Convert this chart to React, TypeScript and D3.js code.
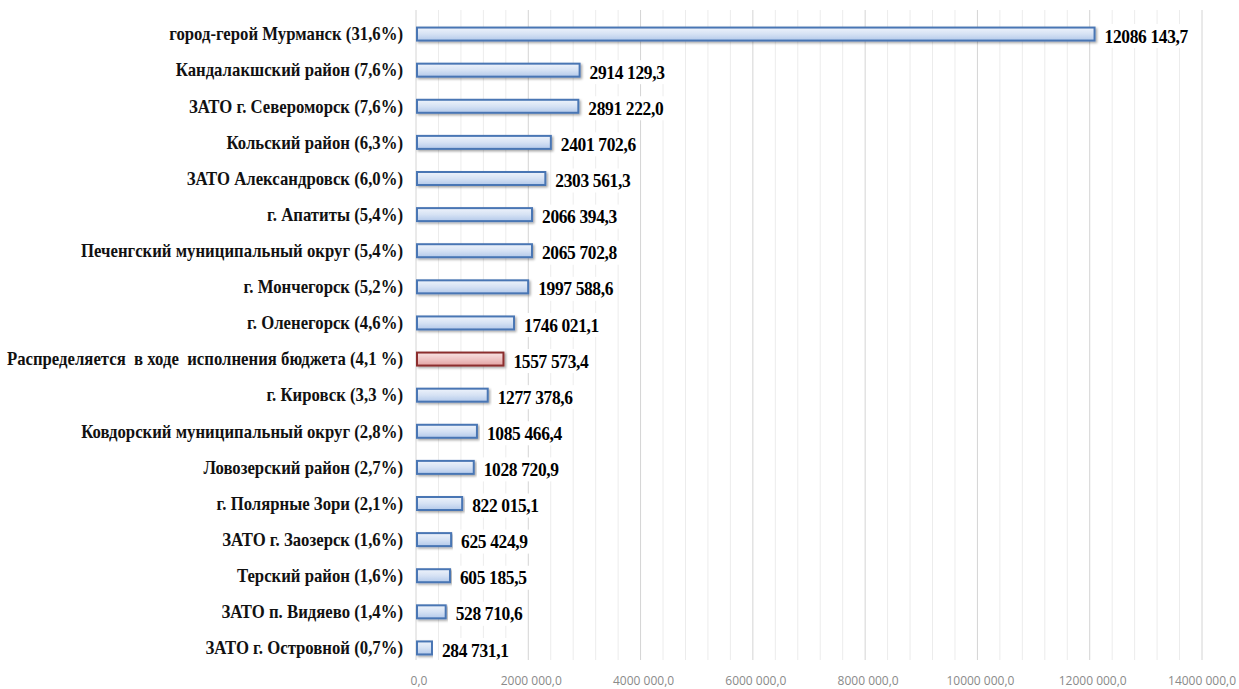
import React, { useEffect, useRef } from "react";
import * as d3 from "d3";

const categories = [
  "город-герой Мурманск (31,6%)",
  "Кандалакшский район (7,6%)",
  "ЗАТО г. Североморск (7,6%)",
  "Кольский район (6,3%)",
  "ЗАТО Александровск (6,0%)",
  "г. Апатиты (5,4%)",
  "Печенгский муниципальный округ (5,4%)",
  "г. Мончегорск (5,2%)",
  "г. Оленегорск (4,6%)",
  "Распределяется  в ходе  исполнения бюджета (4,1 %)",
  "г. Кировск (3,3 %)",
  "Ковдорский муниципальный округ (2,8%)",
  "Ловозерский район (2,7%)",
  "г. Полярные Зори (2,1%)",
  "ЗАТО г. Заозерск (1,6%)",
  "Терский район (1,6%)",
  "ЗАТО п. Видяево (1,4%)",
  "ЗАТО г. Островной (0,7%)",
];

const values = [
  12086143.7, 2914129.3, 2891222.0, 2401702.6, 2303561.3, 2066394.3, 2065702.8,
  1997588.6, 1746021.1, 1557573.4, 1277378.6, 1085466.4, 1028720.9, 822015.1,
  625424.9, 605185.5, 528710.6, 284731.1,
];

// the one undistributed row is drawn in red
const highlighted = ["Распределяется  в ходе  исполнения бюджета (4,1 %)"];

const ticks = [0, 2000000, 4000000, 6000000, 8000000, 10000000, 12000000, 14000000];

// "12086 143,7" style: only the last thousands group is split off
const fmt = (v: number) => {
  const s = v.toFixed(1).replace(".", ",");
  const [int, dec] = s.split(",");
  if (int.length <= 3) return int + "," + dec;
  return int.slice(0, -3) + " " + int.slice(-3) + "," + dec;
};

export default function App() {
  const ref = useRef<SVGSVGElement>(null);
  const width = 1239;
  const height = 689;

  useEffect(() => {
    const margin = { top: 16, right: 37, bottom: 23, left: 416 };
    const svg = d3.select(ref.current);
    svg.selectAll("*").remove();

    const x = d3.scaleLinear().domain([0, 14000000]).range([margin.left, width - margin.right]);
    const y = d3
      .scaleBand()
      .domain(categories)
      .range([margin.top, height - margin.bottom])
      .paddingInner(0.64)
      .paddingOuter(0.32);

    const defs = svg.append("defs");
    const grad = (id: string, c1: string, c2: string, c3: string) => {
      const g = defs.append("linearGradient").attr("id", id).attr("x1", 0).attr("y1", 0).attr("x2", 0).attr("y2", 1);
      g.append("stop").attr("offset", "0%").attr("stop-color", c1);
      g.append("stop").attr("offset", "50%").attr("stop-color", c2);
      g.append("stop").attr("offset", "100%").attr("stop-color", c3);
    };
    grad("blue", "#eef3fb", "#d6e2f4", "#b3c9ea");
    grad("red", "#f8e4e4", "#efc5c5", "#e2a3a3");
    const sh = defs.append("filter").attr("id", "shadow").attr("x", "-5%").attr("y", "-50%").attr("width", "110%").attr("height", "220%");
    sh.append("feDropShadow").attr("dx", 1.5).attr("dy", 1.5).attr("stdDeviation", 1).attr("flood-color", "#000").attr("flood-opacity", 0.35);

    // gridlines: minor every 400 000, major every 2 000 000
    const minor = d3.range(0, 14000001, 400000);
    svg
      .append("g")
      .selectAll("line")
      .data(minor)
      .join("line")
      .attr("x1", (d) => x(d))
      .attr("x2", (d) => x(d))
      .attr("y1", 10)
      .attr("y2", 660)
      .attr("stroke", (d) => (d % 2000000 === 0 ? "#d4d4d4" : "#ececec"))
      .attr("stroke-width", 1);

    // tick labels
    svg
      .append("g")
      .selectAll("text")
      .data(ticks)
      .join("text")
      .attr("x", (d) => (d === 14000000 ? width - 3 : x(d) + 3))
      .attr("y", 685)
      .attr("text-anchor", (d) => (d === 14000000 ? "end" : "middle"))
      .style("font-family", "'Liberation Sans Narrow', 'Open Sans', sans-serif")
      .style("font-size", "12px")
      .attr("fill", "#8a8a8a")
      .text((d) => fmt(d));

    // category labels, Times-like bold, slightly condensed
    const cx = 0.93;
    svg
      .append("g")
      .attr("transform", `scale(${cx},1)`)
      .selectAll("text")
      .data(categories)
      .join("text")
      .attr("x", (margin.left - 13) / cx)
      .attr("y", (d) => y(d)! + y.bandwidth() / 2)
      .attr("dy", "0.35em")
      .attr("text-anchor", "end")
      .attr("xml:space", "preserve")
      .style("white-space", "pre")
      .style("font-family", "'Liberation Serif', 'Times New Roman', serif")
      .style("font-weight", "bold")
      .style("font-size", "18px")
      .attr("fill", "#111")
      .text((d) => d);

    // bars
    svg
      .append("g")
      .selectAll("rect")
      .data(categories)
      .join("rect")
      .attr("x", x(0) + 1)
      .attr("y", (d) => y(d)!)
      .attr("width", (d, i) => x(values[i]) - x(0) - 1)
      .attr("height", y.bandwidth())
      .attr("fill", (d) => (highlighted.includes(d) ? "url(#red)" : "url(#blue)"))
      .attr("stroke", (d) => (highlighted.includes(d) ? "#8c2f2f" : "#4a76b4"))
      .attr("stroke-width", 2)
      .attr("filter", "url(#shadow)");

    // value labels with white backing
    const vx = 0.92;
    const lab = svg
      .append("g")
      .selectAll("g")
      .data(categories)
      .join("g")
      .attr("transform", (d, i) => `translate(${x(values[i]) + 10},${y(d)! + y.bandwidth() / 2 + 2}) scale(${vx},1)`);
    lab
      .append("text")
      .attr("dy", "0.35em")
      .style("font-family", "'Liberation Serif', 'Times New Roman', serif")
      .style("font-weight", "bold")
      .style("font-size", "19px")
      .attr("letter-spacing", "-0.4px")
      .attr("fill", "#000")
      .text((d, i) => fmt(values[i]));
    lab.each(function () {
      const t = d3.select(this).select<SVGTextElement>("text");
      const w = t.node()!.getComputedTextLength();
      d3.select(this).insert("rect", "text").attr("x", -3).attr("y", -12).attr("width", w + 6).attr("height", 24).attr("fill", "#fff");
    });
  }, []);

  return (
    <svg
      ref={ref}
      width={width}
      height={height}
      style={{ position: "absolute", left: 0, top: 0, background: "#fff" }}
    ></svg>
  );
}
